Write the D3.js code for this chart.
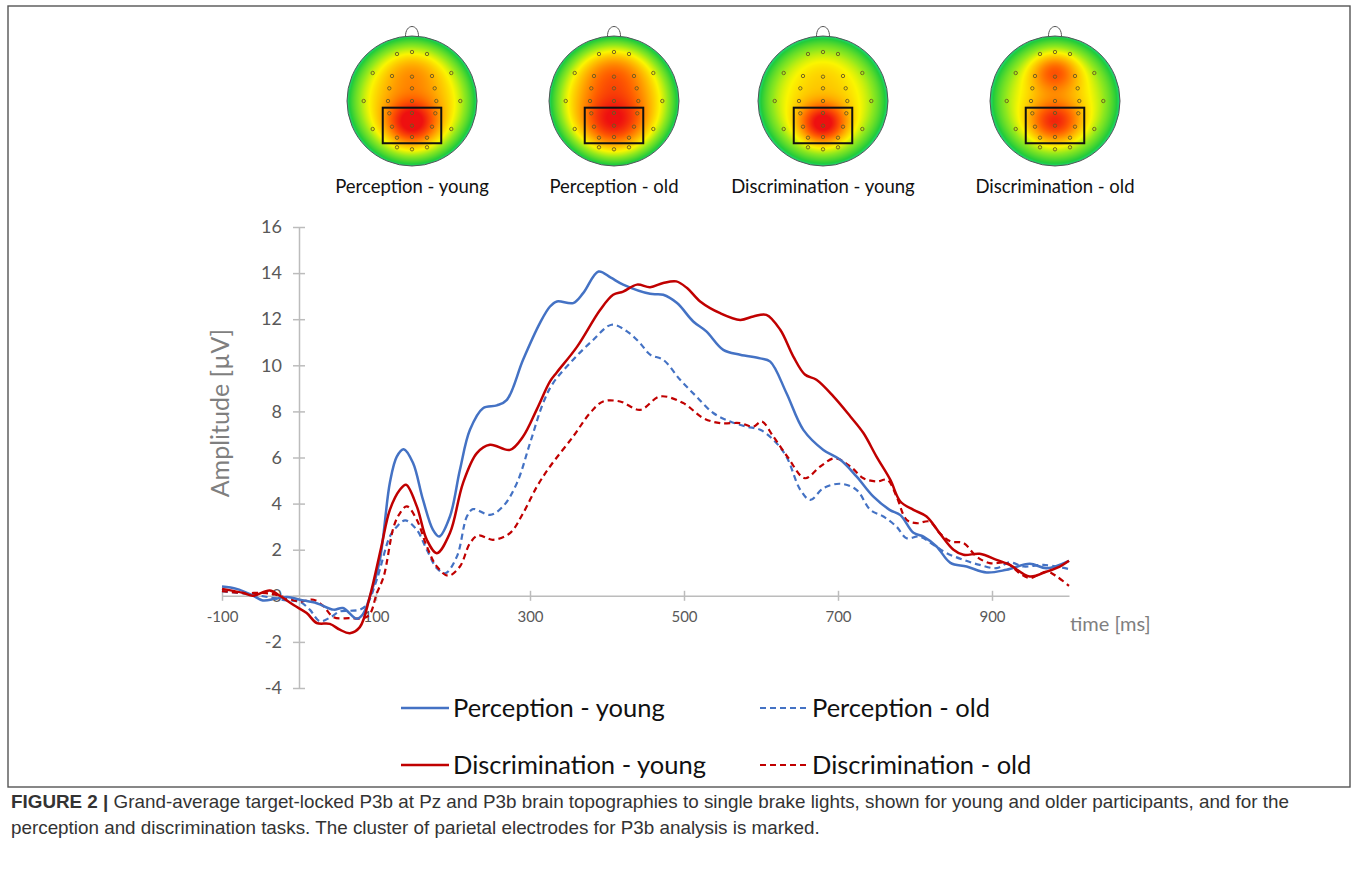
<!DOCTYPE html>
<html>
<head>
<meta charset="utf-8">
<script src="https://cdn.jsdelivr.net/npm/d3@7"></script>
<style>
  html, body { margin: 0; padding: 0; background: #fff; }
  svg { display: block; }
</style>
</head>
<body>
<svg id="fig" width="1357" height="872"></svg>
<script>
// ---------- data ----------
// Grand-average P3b at Pz, [time in ms, amplitude in µV]
const perceptionYoung = [
  [-100,0.40],[-81,0.30],[-62,0.05],[-47,-0.20],[-30,-0.12],[-15,-0.05],[1,-0.17],[23,-0.32],
  [45,-0.60],[57,-0.53],[75,-1.00],[83,-0.80],[92,-0.05],[105,1.56],[118,4.90],[127,6.04],
  [136,6.36],[148,5.77],[161,4.17],[174,2.86],[182,2.57],[196,3.44],[209,5.47],[222,7.20],
  [239,8.14],[257,8.26],[270,8.50],[291,10.24],[313,11.84],[326,12.55],[335,12.77],[356,12.70],
  [369,13.13],[389,14.07],[405,13.80],[421,13.50],[456,13.10],[473,13.06],[491,12.70],[512,11.90],
  [529,11.47],[551,10.67],[573,10.46],[599,10.30],[612,10.16],[633,8.80],[655,7.20],[681,6.33],
  [703,5.90],[724,5.18],[746,4.30],[767,3.73],[781,3.50],[798,2.73],[811,2.57],[828,2.14],
  [846,1.43],[867,1.27],[893,1.01],[919,1.13],[949,1.39],[971,1.20],[1000,1.52]
];
const perceptionOld = [
  [-100,0.20],[-64,0.07],[-43,-0.04],[-16,-0.20],[1,-0.26],[14,-0.60],[27,-1.10],[40,-0.95],
  [53,-0.68],[66,-0.65],[79,-0.60],[88,-0.39],[101,0.70],[118,2.57],[127,3.00],[138,3.27],
  [153,2.86],[166,2.00],[179,1.20],[190,0.98],[205,1.70],[218,3.44],[226,3.76],[248,3.51],
  [265,3.88],[283,4.89],[300,6.62],[317,8.36],[330,9.23],[356,10.24],[382,11.10],[406,11.76],
  [426,11.47],[443,10.96],[456,10.46],[473,10.24],[495,9.37],[516,8.65],[538,7.93],[560,7.56],
  [581,7.34],[599,7.20],[616,6.77],[633,6.04],[651,4.60],[664,4.16],[681,4.67],[703,4.86],
  [724,4.60],[742,3.73],[759,3.44],[776,3.00],[789,2.50],[806,2.57],[824,2.21],[841,1.85],
  [863,1.56],[884,1.34],[906,1.20],[923,1.45],[941,1.27],[967,1.34],[1000,1.16]
];
const discriminationYoung = [
  [-100,0.30],[-72,0.12],[-60,0.00],[-38,0.23],[-25,0.00],[-7,-0.40],[10,-0.75],[23,-1.18],
  [40,-1.22],[53,-1.47],[66,-1.62],[79,-1.36],[92,-0.03],[107,2.14],[118,3.73],[131,4.60],
  [139,4.82],[153,3.88],[166,2.43],[179,1.85],[196,2.72],[213,4.89],[231,6.19],[248,6.55],
  [274,6.33],[291,6.91],[309,8.10],[326,9.30],[335,9.70],[361,10.80],[391,12.40],[408,13.06],
  [421,13.20],[439,13.50],[456,13.39],[473,13.57],[490,13.64],[504,13.35],[521,12.77],[547,12.26],
  [573,11.97],[590,12.12],[607,12.19],[625,11.54],[642,10.38],[657,9.60],[672,9.37],[694,8.65],
  [716,7.78],[733,7.06],[750,6.04],[768,5.03],[781,4.09],[798,3.73],[815,3.44],[832,2.72],
  [850,2.00],[863,1.78],[884,1.82],[906,1.56],[923,1.34],[949,0.84],[971,1.05],[988,1.27],[1000,1.52]
];
const discriminationOld = [
  [-100,0.20],[-72,0.12],[-43,0.12],[-25,0.00],[1,-0.25],[19,-0.17],[32,-0.46],[45,-0.93],
  [66,-0.97],[84,-0.97],[92,-0.80],[101,0.10],[110,0.84],[123,3.00],[131,3.58],[140,3.88],
  [153,3.30],[166,2.14],[179,1.27],[194,0.87],[209,1.27],[222,2.28],[233,2.62],[252,2.43],
  [274,2.72],[291,3.58],[309,4.74],[326,5.61],[356,6.91],[378,7.93],[395,8.43],[417,8.43],
  [443,8.07],[469,8.65],[499,8.36],[525,7.71],[547,7.49],[573,7.49],[590,7.34],[601,7.56],
  [616,6.91],[635,6.00],[657,5.10],[677,5.61],[696,5.97],[716,5.61],[733,5.10],[750,4.96],
  [764,5.03],[776,4.31],[789,3.30],[802,3.15],[819,3.22],[832,2.72],[846,2.36],[863,2.29],
  [880,1.70],[897,1.42],[919,1.42],[936,0.98],[949,0.77],[971,1.05],[984,0.84],[1000,0.43]
];

const seriesNames = ["Perception - young", "Perception - old", "Discrimination - young", "Discrimination - old"];
const xTicks = [-100, 100, 300, 500, 700, 900];
const yTicks = [-4, -2, 0, 2, 4, 6, 8, 10, 12, 14, 16];
const topoLabels = ["Perception - young", "Perception - old", "Discrimination - young", "Discrimination - old"];

// Scalp map sources (unit-radius coords, y downward): [x, y, amplitude, sx, sy]
const topoPosterior = [[0,0.33,0.46,0.27,0.25],[0,0.30,0.36,0.33,0.30],[0,0.35,0.52,0.25,0.22],[0,0.32,0.42,0.28,0.24]];
const topoFrontal   = [[0,-0.45,0.12,0.30,0.25],[0,-0.42,0.18,0.34,0.28],[0,-0.45,0.04,0.30,0.25],[0,-0.45,0.34,0.26,0.22]];
const topoBase      = [0.55, 0.58, 0.48, 0.46];

// 10-20 style electrode montage (unit-radius coords)
const electrodes = [
  [-15,-47],[0,-49],[15,-47],
  [-39.3,-28],[-20,-25],[0,-24.3],[20,-25],[39.3,-28],
  [-22.7,-12.7],[0,-12.7],[22.7,-12.7],
  [-48.3,0],[-24,0],[0,0],[24.3,0],[48.3,0],
  [-22.7,12.3],[0,12],[23.3,12.3],
  [-39.3,28],[-20,25.7],[0,24.7],[20,25.7],[39.3,28],
  [-15,36.7],[0,36],[15,36.7],
  [-15,46.3],[0,48.3],[15,46.3]
].map(d => [d[0] / 65, d[1] / 65]);
const clusterBox = [-0.45, 0.103, 0.45, 0.65]; // x0, y0, x1, y1 in unit radius

// ---------- layout ----------
const svg = d3.select("#fig");
const FONT = "Lato, 'Open Sans', sans-serif";
const x = d3.scaleLinear().domain([-100, 1000]).range([222, 1069]);
const y = d3.scaleLinear().domain([-4, 16]).range([688, 227]);
const blue = "#4472C4", red = "#C00000";
const axisGray = "#bcbcbc", labelGray = "#595959";
const plainNumber = d => String(d);

// figure frame
svg.append("rect").attr("x", 8).attr("y", 6).attr("width", 1342).attr("height", 781)
  .attr("fill", "none").attr("stroke", "#555").attr("stroke-width", 1.4);

// ---------- scalp topographies ----------
const headX = [412, 614, 823, 1055];
const headY = 101, headR = 65;
const heat = d3.scaleLinear()
  .domain([0, 0.15, 0.35, 0.5, 0.65, 0.82, 1])
  .range(["#18e6d8", "#22cc3a", "#8ee81e", "#fbf600", "#ffb000", "#ff5e00", "#ee1010"])
  .clamp(true);

function gauss(s, u, v) {
  const dx = u - s[0], dy = v - s[1];
  return s[2] * Math.exp(-(dx * dx) / (2 * s[3] * s[3]) - (dy * dy) / (2 * s[4] * s[4]));
}
function fieldAt(i, u, v) {
  const r2 = u * u + v * v;
  return 0.08 + topoBase[i] * (1 - Math.pow(r2, 1.6)) + gauss(topoPosterior[i], u, v) + gauss(topoFrontal[i], u, v);
}

const defs = svg.append("defs");
topoLabels.forEach((lab, i) => {
  const size = headR * 2, scale = 2;
  const cv = document.createElement("canvas");
  cv.width = size * scale; cv.height = size * scale;
  const ctx = cv.getContext("2d");
  const img = ctx.createImageData(cv.width, cv.height);
  for (let py = 0; py < cv.height; py++) {
    for (let px = 0; px < cv.width; px++) {
      const u = (px + 0.5) / (headR * scale) - 1, v = (py + 0.5) / (headR * scale) - 1;
      const c = d3.rgb(heat(fieldAt(i, u, v)));
      const k = (py * cv.width + px) * 4;
      img.data[k] = c.r; img.data[k + 1] = c.g; img.data[k + 2] = c.b; img.data[k + 3] = 255;
    }
  }
  ctx.putImageData(img, 0, 0);

  const cx = headX[i];
  defs.append("clipPath").attr("id", "head" + i)
    .append("circle").attr("cx", cx).attr("cy", headY).attr("r", headR);

  const g = svg.append("g");
  // nose
  g.append("path")
    .attr("d", `M${cx - 6.5},${headY - headR + 1} C${cx - 7},${headY - headR - 13} ${cx + 7},${headY - headR - 13} ${cx + 6.5},${headY - headR + 1}`)
    .attr("fill", "#fff").attr("stroke", "#555").attr("stroke-width", 1);
  g.append("image").attr("href", cv.toDataURL())
    .attr("x", cx - headR).attr("y", headY - headR).attr("width", size).attr("height", size)
    .attr("clip-path", `url(#head${i})`);
  g.append("circle").attr("cx", cx).attr("cy", headY).attr("r", headR)
    .attr("fill", "none").attr("stroke", "#555").attr("stroke-width", 1);
  g.selectAll("circle.el").data(electrodes).join("circle").attr("class", "el")
    .attr("cx", d => cx + d[0] * headR).attr("cy", d => headY + d[1] * headR).attr("r", 1.7)
    .attr("fill", "none").attr("stroke", "#6a5a22").attr("stroke-width", 0.9);
  g.append("rect")
    .attr("x", cx + clusterBox[0] * headR).attr("y", headY + clusterBox[1] * headR)
    .attr("width", (clusterBox[2] - clusterBox[0]) * headR).attr("height", (clusterBox[3] - clusterBox[1]) * headR)
    .attr("fill", "none").attr("stroke", "#111").attr("stroke-width", 2);
  svg.append("text").attr("x", cx).attr("y", 193).attr("text-anchor", "middle")
    .attr("font-family", FONT).attr("font-size", 18.5).attr("fill", "#111").text(lab);
});

// ---------- axes ----------
const yAxis = svg.append("g").attr("transform", `translate(${x(0)},0)`)
  .call(d3.axisLeft(y).tickValues(yTicks).tickFormat(plainNumber).tickSizeInner(6).tickSizeOuter(0).tickPadding(12));
yAxis.select(".domain").attr("stroke", axisGray).attr("stroke-width", 1.5);
yAxis.selectAll(".tick line").attr("x1", 6).attr("stroke", axisGray).attr("stroke-width", 1.5);
yAxis.selectAll(".tick text").attr("font-family", FONT).attr("font-size", 18).attr("fill", labelGray)
  .attr("x", -17);

const xAxis = svg.append("g").attr("transform", `translate(0,${y(0)})`)
  .call(d3.axisBottom(x).tickValues(xTicks).tickFormat(plainNumber).tickSizeInner(5).tickSizeOuter(0));
xAxis.select(".domain").attr("stroke", axisGray).attr("stroke-width", 1.5);
xAxis.selectAll(".tick line").attr("y1", -5).attr("stroke", axisGray).attr("stroke-width", 1.5);
xAxis.selectAll(".tick text").attr("font-family", FONT).attr("font-size", 15).attr("fill", labelGray)
  .attr("y", 21).attr("dy", "0.35em");

svg.append("text").attr("transform", "translate(229,413) rotate(-90)").attr("text-anchor", "middle")
  .attr("font-family", FONT).attr("font-size", 25).attr("fill", "#7f7f7f").text("Amplitude [µV]");
svg.append("text").attr("x", 1070).attr("y", 631)
  .attr("font-family", FONT).attr("font-size", 20).attr("fill", "#7f7f7f").text("time [ms]");

// ---------- waveforms ----------
const line = d3.line().x(d => x(d[0])).y(d => y(d[1])).curve(d3.curveCatmullRom.alpha(0.5));
const series = [
  { data: perceptionYoung, color: blue, dash: null },
  { data: perceptionOld, color: blue, dash: "6,4" },
  { data: discriminationYoung, color: red, dash: null },
  { data: discriminationOld, color: red, dash: "6,4" }
];
const drawOrder = [1, 3, 0, 2];
drawOrder.forEach(k => {
  const s = series[k];
  svg.append("path").datum(s.data).attr("d", line)
    .attr("fill", "none").attr("stroke", s.color)
    .attr("stroke-width", s.dash ? 2.2 : 2.5)
    .attr("stroke-dasharray", s.dash).attr("stroke-linejoin", "round");
});

// ---------- legend ----------
const legendPos = [[401, 708], [760, 708], [401, 765], [760, 765]];
seriesNames.forEach((name, i) => {
  const s = series[i], p = legendPos[i];
  svg.append("line").attr("x1", p[0]).attr("x2", p[0] + 48).attr("y1", p[1]).attr("y2", p[1])
    .attr("stroke", s.color).attr("stroke-width", s.dash ? 2.2 : 2.5).attr("stroke-dasharray", s.dash);
  svg.append("text").attr("x", p[0] + 52).attr("y", p[1] + 9)
    .attr("font-family", FONT).attr("font-size", 25.5).attr("fill", "#111").text(name);
});

// ---------- caption ----------
const cap = svg.append("text").attr("font-family", "'Liberation Sans', Arial, sans-serif")
  .attr("font-size", 15).attr("fill", "#333");
const l1 = cap.append("tspan").attr("x", 11).attr("y", 808);
l1.append("tspan").attr("font-weight", "bold").text("FIGURE 2 | ");
l1.append("tspan").text("Grand-average target-locked P3b at Pz and P3b brain topographies to single brake lights, shown for young and older participants, and for the");
const l2 = cap.append("tspan").attr("x", 11).attr("y", 834)
  .text("perception and discrimination tasks. The cluster of parietal electrodes for P3b analysis is marked.");
// size the caption so the first line spans the figure width
const w1 = l1.node().getComputedTextLength ? l1.node().getComputedTextLength() : cap.node().getBBox().width;
const capW = cap.node().getBBox().width;
cap.attr("font-size", 15 * 1279 / capW);
</script>
</body>
</html>
